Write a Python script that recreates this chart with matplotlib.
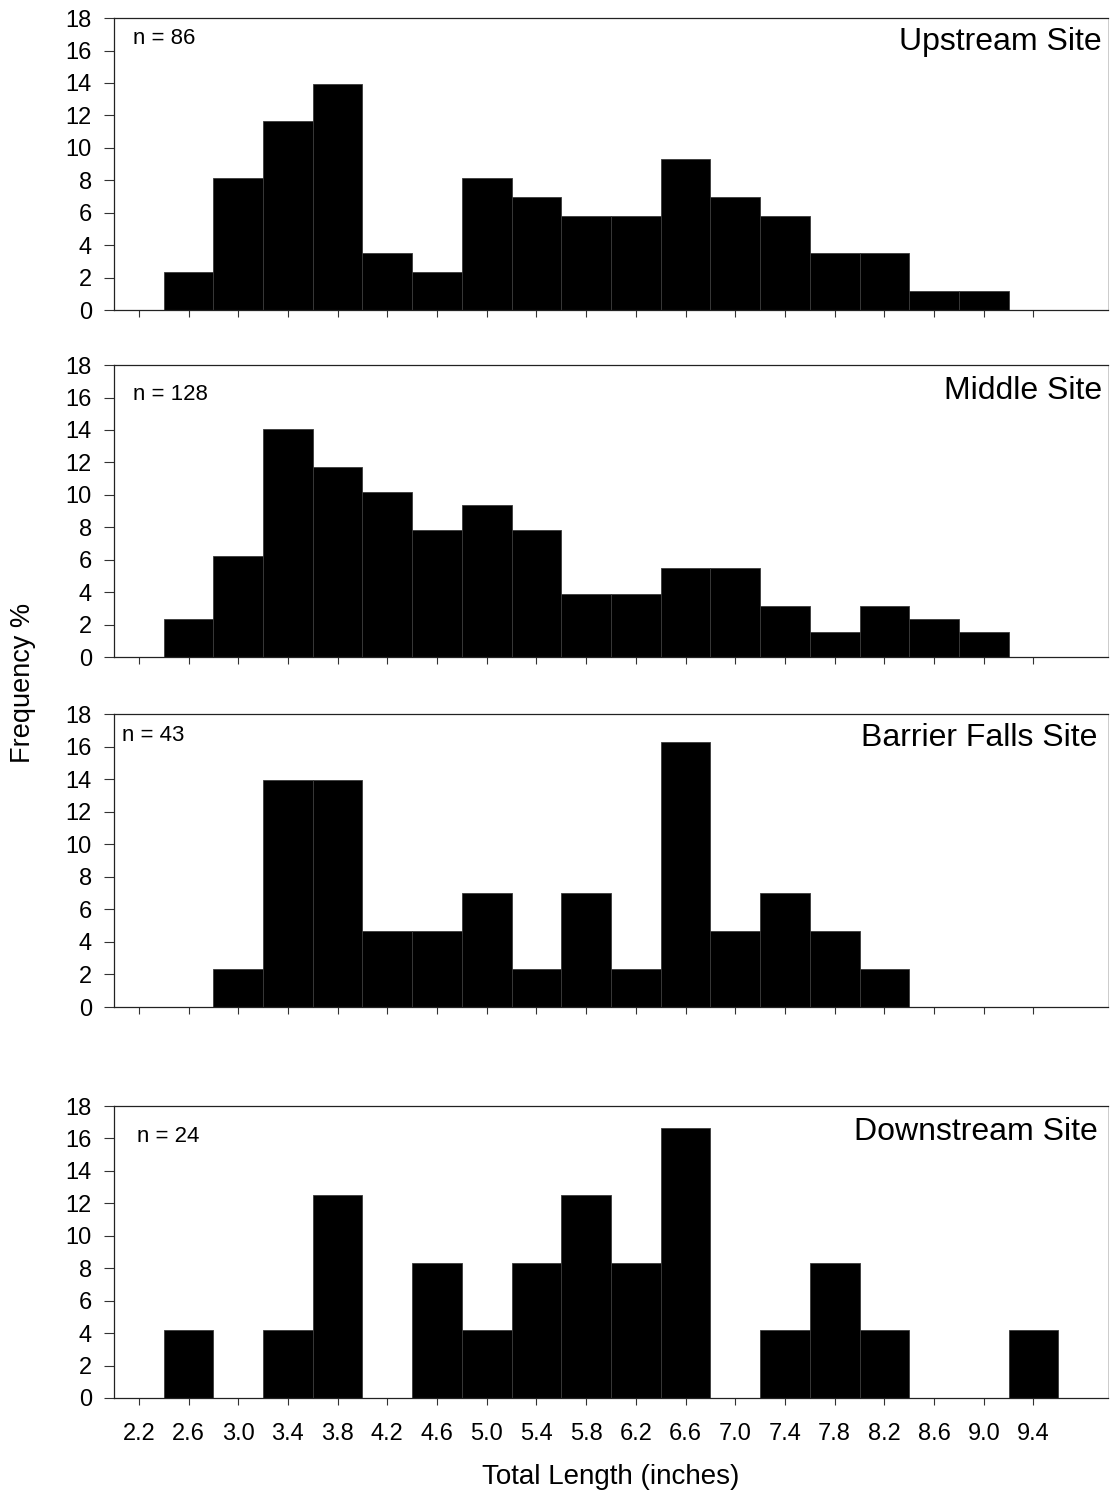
import numpy as np
import matplotlib
matplotlib.use('Agg')
import matplotlib.pyplot as plt

plt.rcParams['font.family'] = ['Liberation Sans', 'DejaVu Sans']

# length bins (inches), 0.4 wide from 2.0 to 10.0
bin_edges = np.round(np.arange(2.0, 10.01, 0.4), 1)
tick_pos = np.round(np.arange(2.2, 9.41, 0.4), 1)
tick_labels = ['%.1f' % t for t in tick_pos]

sites = ['Upstream Site', 'Middle Site', 'Barrier Falls Site', 'Downstream Site']
n_fish = [86, 128, 43, 24]

# frequency (%) per bin, 2.0-2.4 ... 9.6-10.0
upstream = [0, 2.33, 8.14, 11.63, 13.95, 3.49, 2.33, 8.14, 6.98, 5.81,
            5.81, 9.30, 6.98, 5.81, 3.49, 3.49, 1.16, 1.16, 0, 0]
middle = [0, 2.34, 6.25, 14.06, 11.72, 10.16, 7.81, 9.38, 7.81, 3.91,
          3.91, 5.47, 5.47, 3.13, 1.56, 3.13, 2.34, 1.56, 0, 0]
barrier = [0, 0, 2.33, 13.95, 13.95, 4.65, 4.65, 6.98, 2.33, 6.98,
           2.33, 16.28, 4.65, 6.98, 4.65, 2.33, 0, 0, 0, 0]
downstream = [0, 4.17, 0, 4.17, 12.5, 0, 8.33, 4.17, 8.33, 12.5,
              8.33, 16.67, 0, 4.17, 8.33, 4.17, 0, 0, 4.17, 0]
freqs = [upstream, middle, barrier, downstream]

fig = plt.figure(figsize=(11.1, 14.95), dpi=100)

# panel boxes: left, bottom, width, height
boxes = [(0.1027, 0.7926, 0.8955, 0.1953),
         (0.1027, 0.5605, 0.8955, 0.1953),
         (0.1027, 0.3264, 0.8955, 0.1960),
         (0.1027, 0.0649, 0.8955, 0.1953)]
n_pos = [(0.019, 0.93), (0.019, 0.90), (0.008, 0.928), (0.023, 0.897)]
title_pos = [(0.994, 0.918), (0.994, 0.91), (0.989, 0.918), (0.990, 0.911)]

left_edges = bin_edges[:-1]
for i, (site, n, f) in enumerate(zip(sites, n_fish, freqs)):
    ax = fig.add_axes(boxes[i])
    ax.bar(left_edges, f, width=0.4, align='edge', color='black',
           edgecolor='#3a3a3a', linewidth=0.6)
    ax.set_xlim(2.0, 10.0)
    ax.set_ylim(0, 18)
    ax.set_yticks(np.arange(0, 19, 2))
    ax.set_xticks(tick_pos)
    if i == 3:
        ax.set_xticklabels(tick_labels)
    else:
        ax.set_xticklabels([])
    ax.tick_params(axis='y', direction='out', length=7, width=0.8,
                   labelsize=17, pad=9, color='#333333')
    ax.tick_params(axis='x', direction='out', length=5, width=0.8,
                   labelsize=17, pad=13, color='#333333')
    for side in ['top', 'bottom', 'left']:
        ax.spines[side].set_linewidth(0.9)
        ax.spines[side].set_color('#222222')
    ax.spines['right'].set_color('#cccccc')
    ax.spines['right'].set_linewidth(0.7)
    ax.text(n_pos[i][0], n_pos[i][1], 'n = %d' % n, transform=ax.transAxes,
            fontsize=16, ha='left', va='center')
    ax.text(title_pos[i][0], title_pos[i][1], site, transform=ax.transAxes,
            fontsize=23, ha='right', va='center')

fig.text(0.021, 1 - 683 / 1495, 'Frequency %', rotation=90, fontsize=19.5,
         ha='center', va='center')
fig.text(0.5505, 1 - 1477 / 1495, 'Total Length (inches)', fontsize=20,
         ha='center', va='center')

plt.savefig('out.png', dpi=100)
